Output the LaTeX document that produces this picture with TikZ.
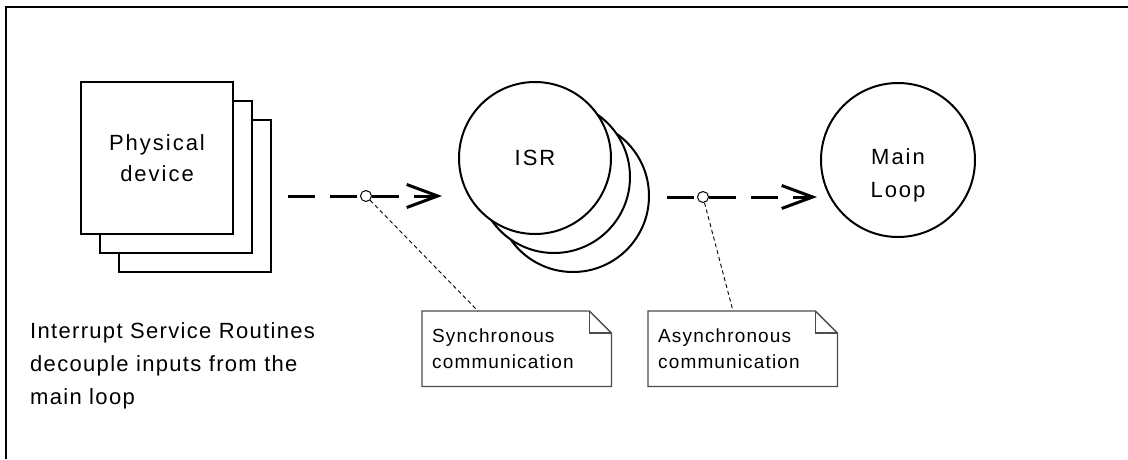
\documentclass[tikz,border=0pt]{standalone}
\usepackage{fontspec}
\setmainfont{Liberation Sans}[LetterSpace=9]
\newfontfamily\capfont{Liberation Sans}[LetterSpace=6]
\usetikzlibrary{arrows.meta}
\begin{document}
\begin{tikzpicture}[x=1pt,y=-1pt,
  box/.style={draw,line width=2pt,fill=white,minimum width=152pt,minimum height=152pt,inner sep=0pt},
  blob/.style={draw,line width=2pt,fill=white,circle,minimum size=152pt,inner sep=0pt},
  bigtext/.style={font=\fontsize{22pt}{31pt}\selectfont,align=center},
  flow/.style={line width=3pt,dash pattern=on 27pt off 15pt},
  tip/.style={-{Straight Barb[length=31pt,width=23pt,line width=3pt]}},
  marker/.style={draw,line width=1pt,fill=white,circle,minimum size=11pt,inner sep=0pt},
  notebox/.style={minimum width=189pt,minimum height=75pt,inner xsep=10pt,inner ysep=0pt,
     text width=169pt,align=left,font=\capfont\fontsize{19pt}{26pt}\selectfont},
  noteline/.style={draw=black!70,line width=1.3pt},
  anchorline/.style={line width=0.9pt,dash pattern=on 4pt off 3pt}]
\useasboundingbox (0,0) rectangle (1128,459);
% frame (only top and left edges visible)
\draw[line width=2.5pt] (6,459) -- (6,7) -- (1128,7);
% physical device stack
\node[box] (dev3) at (195,196) {};
\node[box] (dev2) at (176,177) {};
\node[box,bigtext] (dev) at (157,158) {Physical\\device};
% ISR stack
\node[blob] (isr3) at (573,196) {};
\node[blob] (isr2) at (554,177) {};
\node[blob,bigtext] (isr) at (535,158) {ISR};
% main loop
\node[blob,minimum size=154pt] (main) at (898,160) {};
\node[bigtext,font=\fontsize{22pt}{33pt}\selectfont] (mainlbl) at ([yshift=-15pt]main.center) {Main\\Loop};
% connectors
\coordinate (s1) at (288,196);
\node[marker] (m1) at (366,196) {};
\coordinate (e1) at (442,196);
\coordinate (s2) at (667,197);
\node[marker] (m2) at (703,197) {};
\coordinate (e2) at (817,197);
\draw[flow] (s1) -- (m1);
\draw[flow,tip] (m1) -- (e1);
\draw[flow] (s2) -- (m2);
\draw[flow,tip] (m2) -- (e2);
% notes
\node[notebox,anchor=north west] (n1) at (422,311) {Synchronous\\communication};
\node[notebox,anchor=north west] (n2) at (648,311) {Asynchronous\\communication};
\foreach \n in {n1,n2}{
  \draw[noteline,fill=white] (\n.south west) -- (\n.north west) -- ([xshift=-22pt]\n.north east)
     -- ([yshift=-22pt]\n.north east) -- (\n.south east) -- cycle;
  \draw[noteline] ([xshift=-22pt]\n.north east) -- ([xshift=-22pt,yshift=-22pt]\n.north east)
     -- ([yshift=-22pt]\n.north east);
}
\node[notebox,anchor=north west] at (n1.north west) {Synchronous\\communication};
\node[notebox,anchor=north west] at (n2.north west) {Asynchronous\\communication};
\draw[anchorline] (m1) -- ([xshift=56pt]n1.north west);
\draw[anchorline] (m2) -- ([xshift=85pt]n2.north west);
% caption
\node[anchor=north west,align=left,font=\capfont\fontsize{22pt}{33pt}\selectfont,inner sep=0pt] (cap) at (30,322)
  {Interrupt Service Routines\\decouple inputs from the\\main loop};
\end{tikzpicture}
\end{document}
